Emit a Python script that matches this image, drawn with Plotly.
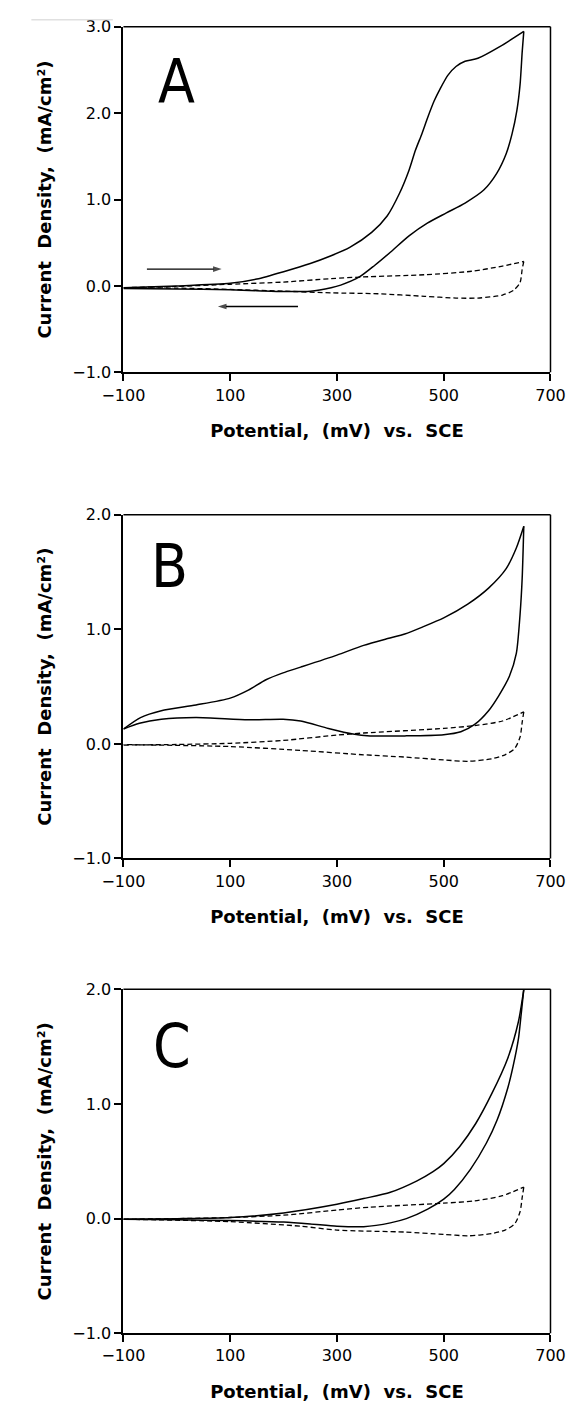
import plotly.graph_objects as go

# ---------------- data (potential in mV vs SCE, current density in mA/cm2) ----------------
A_fwd_x = [-100, 0, 100, 150, 200, 250, 289, 324, 365, 394, 417, 435, 447, 459, 470, 482, 494, 508, 523, 540, 564, 605, 650]
A_fwd_y = [-0.02, 0.0, 0.03, 0.08, 0.165, 0.26, 0.35, 0.446, 0.62, 0.81, 1.07, 1.34, 1.57, 1.76, 1.95, 2.14, 2.29, 2.44, 2.54, 2.6, 2.635, 2.77, 2.946]
A_rev_x = [650, 647, 643, 637, 628, 617, 599, 575, 540, 505, 470, 435, 400, 371, 342, 307, 289, 250, 200, 150, 100, 0, -100]
A_rev_y = [2.946, 2.71, 2.33, 2.03, 1.76, 1.53, 1.30, 1.11, 0.96, 0.846, 0.73, 0.58, 0.39, 0.24, 0.104, 0.01, -0.02, -0.06, -0.065, -0.055, -0.045, -0.035, -0.03]
A_blank_fwd_x = [-100, 0, 100, 200, 289, 348, 464, 552, 610, 650]
A_blank_fwd_y = [-0.02, -0.005, 0.02, 0.045, 0.085, 0.104, 0.13, 0.17, 0.23, 0.283]
A_blank_rev_x = [650, 647, 643, 631, 610, 564, 523, 464, 377, 289, 200, 100, 0, -100]
A_blank_rev_y = [0.283, 0.195, 0.04, -0.05, -0.105, -0.14, -0.14, -0.12, -0.09, -0.08, -0.06, -0.04, -0.025, -0.02]

B_fwd_x = [-100, -68, -29, 36, 100, 134, 167, 199, 232, 300, 350, 395, 427, 460, 500, 545, 584, 617, 636, 650]
B_fwd_y = [0.13, 0.23, 0.29, 0.34, 0.40, 0.47, 0.56, 0.62, 0.67, 0.775, 0.86, 0.92, 0.96, 1.02, 1.10, 1.22, 1.36, 1.53, 1.71, 1.90]
B_rev_x = [650, 647, 643, 636, 623, 603, 584, 558, 532, 500, 427, 362, 330, 284, 232, 199, 134, 36, -29, -70, -100]
B_rev_y = [1.9, 1.45, 1.13, 0.79, 0.59, 0.42, 0.29, 0.17, 0.106, 0.08, 0.07, 0.07, 0.086, 0.135, 0.2, 0.215, 0.21, 0.23, 0.215, 0.18, 0.13]
B_blank_fwd_x = [-100, 0, 100, 199, 300, 350, 500, 558, 610, 650]
B_blank_fwd_y = [-0.01, -0.005, 0.005, 0.03, 0.077, 0.095, 0.135, 0.16, 0.2, 0.28]
B_blank_rev_x = [650, 647, 643, 633, 615, 590, 545, 500, 427, 350, 232, 100, -100]
B_blank_rev_y = [0.28, 0.19, 0.06, -0.04, -0.095, -0.13, -0.152, -0.14, -0.115, -0.095, -0.057, -0.023, -0.006]

C_fwd_x = [-100, 0, 100, 200, 300, 350, 400, 450, 480, 500, 530, 560, 590, 620, 640, 650]
C_fwd_y = [-0.005, 0.0, 0.01, 0.05, 0.125, 0.175, 0.23, 0.33, 0.41, 0.48, 0.63, 0.83, 1.09, 1.40, 1.72, 2.0]
C_rev_x = [650, 645, 640, 630, 620, 600, 580, 550, 520, 500, 470, 430, 400, 350, 300, 250, 200, 100, 0, -100]
C_rev_y = [2.0, 1.78, 1.57, 1.33, 1.14, 0.86, 0.66, 0.43, 0.255, 0.17, 0.083, 0.0, -0.037, -0.07, -0.066, -0.046, -0.03, -0.017, -0.01, -0.005]
C_blank_fwd_x = [-100, 0, 100, 200, 300, 362, 500, 558, 610, 650]
C_blank_fwd_y = [-0.005, 0.0, 0.01, 0.03, 0.075, 0.1, 0.135, 0.155, 0.2, 0.275]
C_blank_rev_x = [650, 647, 643, 633, 615, 590, 545, 500, 427, 300, 232, 100, -100]
C_blank_rev_y = [0.275, 0.185, 0.06, -0.045, -0.1, -0.13, -0.15, -0.137, -0.117, -0.1, -0.066, -0.026, -0.005]

# scan direction arrows in panel A: (tail x, head x, y)
arrow_fwd = (-56, 84, 0.195)
arrow_rev = (227, 77, -0.238)

panel_labels = ["A", "B", "C"]
x_ticks = [-100, 100, 300, 500, 700]
x_range = [-100, 700]
y_ranges = [[-1, 3], [-1, 2], [-1, 2]]
y_ticks = [[-1, 0, 1, 2, 3], [-1, 0, 1, 2], [-1, 0, 1, 2]]
x_title = "Potential,  (mV)  vs.  SCE"
y_title = "Current  Density,  (mA/cm²)"

# ---------------- layout geometry (pixels) ----------------
W, H = 583, 1416
plot_left, plot_right = 108.3, 564.3
panels_px = [(18.0, 368.3), (512.7, 861.0), (993.7, 1342.3)]  # top, bottom
label_pos = [(0.124, 0.844), (0.107, 0.85), (0.1145, 0.836)]

fig = go.Figure()

series = [
    (A_fwd_x, A_fwd_y, A_rev_x, A_rev_y, A_blank_fwd_x, A_blank_fwd_y, A_blank_rev_x, A_blank_rev_y),
    (B_fwd_x, B_fwd_y, B_rev_x, B_rev_y, B_blank_fwd_x, B_blank_fwd_y, B_blank_rev_x, B_blank_rev_y),
    (C_fwd_x, C_fwd_y, C_rev_x, C_rev_y, C_blank_fwd_x, C_blank_fwd_y, C_blank_rev_x, C_blank_rev_y),
]

tick_font = dict(family="DejaVu Sans", size=16, color="black")
title_font = dict(family="DejaVu Sans", size=18, color="black", weight="bold")

annotations = []
shapes = []
for i, s in enumerate(series):
    xa = "x" if i == 0 else f"x{i+1}"
    ya = "y" if i == 0 else f"y{i+1}"
    fx, fy, rx, ry, bfx, bfy, brx, bry = s
    for xx, yy in [(fx, fy), (rx, ry)]:
        fig.add_trace(go.Scatter(x=xx, y=yy, mode="lines", xaxis=xa, yaxis=ya,
                                 line=dict(color="black", width=1.5, shape="spline", smoothing=0.7),
                                 showlegend=False, hoverinfo="skip"))
    for xx, yy in [(bfx, bfy), (brx, bry)]:
        fig.add_trace(go.Scatter(x=xx, y=yy, mode="lines", xaxis=xa, yaxis=ya,
                                 line=dict(color="black", width=1.3, dash="5px,3px", shape="spline", smoothing=0.7),
                                 showlegend=False, hoverinfo="skip"))
    top, bot = panels_px[i]
    dom_y = [1 - bot / H, 1 - top / H]
    axname = "" if i == 0 else str(i + 1)
    fig.layout["xaxis" + axname] = dict(
        domain=[plot_left / W, plot_right / W], range=x_range, anchor=ya,
        tickmode="array", tickvals=x_ticks, ticks="outside", ticklen=7, tickwidth=1.5,
        tickcolor="black", showline=True, linecolor="black", linewidth=2, mirror=False,
        showgrid=False, zeroline=False, tickfont=tick_font, fixedrange=True,
        title=dict(text=x_title, font=title_font, standoff=21))
    fig.layout["yaxis" + axname] = dict(
        domain=dom_y, range=y_ranges[i], anchor=xa,
        tickmode="array", tickvals=y_ticks[i], tickformat=".1f", ticks="outside", ticklen=7,
        tickwidth=1.5, tickcolor="black", showline=True, linecolor="black", linewidth=2,
        mirror=False, showgrid=False, zeroline=False, tickfont=tick_font, fixedrange=True,
        title=dict(text=y_title, font=title_font, standoff=16))
    # top and right frame lines (thinner)
    shapes.append(dict(type="line", xref=f"{xa} domain", yref=f"{ya} domain", x0=0, x1=1, y0=1, y1=1,
                       line=dict(color="black", width=1.5)))
    shapes.append(dict(type="line", xref=f"{xa} domain", yref=f"{ya} domain", x0=1, x1=1, y0=0, y1=1,
                       line=dict(color="black", width=1.5)))
    # panel label
    lx, ly = label_pos[i]
    annotations.append(dict(text=panel_labels[i], xref=f"{xa} domain", yref=f"{ya} domain", x=lx, y=ly,
                            showarrow=False, xanchor="center", yanchor="middle",
                            font=dict(family="DejaVu Sans Condensed, Liberation Sans Narrow, Liberation Sans",
                                      size=60, color="black")))

# scan-direction arrows (panel A), drawn as lines ending in arrow markers
for tail_x, head_x, yv in [arrow_fwd, arrow_rev]:
    fig.add_trace(go.Scatter(x=[tail_x, head_x], y=[yv, yv], mode="lines+markers", xaxis="x", yaxis="y",
                             line=dict(color="black", width=1.3),
                             marker=dict(symbol="arrow", size=[0, 9], angleref="previous", color="black",
                                         line=dict(width=0)),
                             showlegend=False, hoverinfo="skip"))

# faint grey line at top-left of the scan
shapes.append(dict(type="line", xref="paper", yref="paper", x0=10 / W, x1=97 / W,
                   y0=1 - 11 / H, y1=1 - 11 / H, line=dict(color="#d0d0d0", width=1)))

fig.update_layout(width=W, height=H, margin=dict(l=0, r=0, t=0, b=0),
                  paper_bgcolor="white", plot_bgcolor="white",
                  annotations=annotations, shapes=shapes, showlegend=False)

fig.write_html("out.html", config={"displayModeBar": False})
